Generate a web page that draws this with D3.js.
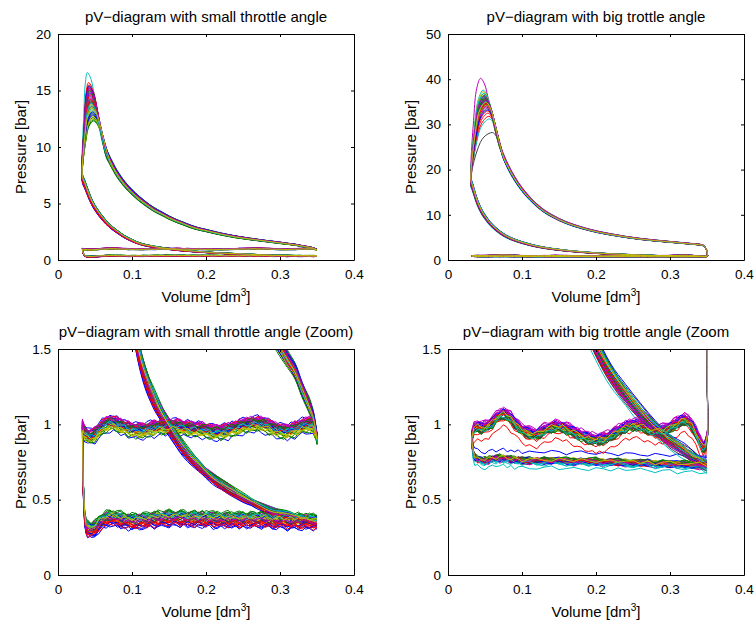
<!DOCTYPE html>
<html><head><meta charset="utf-8">
<script src="https://cdn.jsdelivr.net/npm/d3@7"></script>
<style>body{margin:0;background:#fff} svg text{font-family:"Liberation Sans",Arial,Helvetica,sans-serif;fill:#000}</style>
</head><body><svg id="c" width="755" height="626"></svg>
<script>
// ---------------- data ----------------
const lineColors = ["#0000ff","#008000","#ff0000","#00bfbf","#bf00bf","#bfbf00","#404040"];
const xTicks = [0, 0.1, 0.2, 0.3, 0.4];
const yTicksSmall = [0, 5, 10, 15, 20];
const yTicksBig = [0, 10, 20, 30, 40, 50];
const yTicksZoom = [0, 0.5, 1, 1.5];
const titles = ["pV\u2212diagram with small throttle angle", "pV\u2212diagram with big trottle angle",
                "pV\u2212diagram with small throttle angle (Zoom)", "pV\u2212diagram with big trottle angle (Zoom"];

// small throttle: shared strokes (volume dm3 -> pressure bar)
const compVolSmall = [0.033,0.036,0.04,0.045,0.05,0.06,0.07,0.08,0.09,0.10,0.11,0.12,0.13,0.14,0.15,0.17,0.19,0.21,0.23,0.25,0.27,0.29,0.31,0.33,0.35];
const compPSmall   = [7.2,6.7,6.0,5.2,4.6,3.7,3.0,2.5,2.05,1.72,1.45,1.28,1.16,1.06,0.98,0.83,0.72,0.635,0.57,0.51,0.46,0.42,0.395,0.37,0.35];
const expVolSmall  = [0.05,0.055,0.06,0.065,0.07,0.08,0.09,0.10,0.11,0.12,0.13,0.14,0.15,0.16,0.17,0.18,0.19,0.20,0.22,0.24,0.26,0.28,0.30,0.31,0.32,0.33,0.34,0.345,0.35];
const expPSmall    = [12.3,11.2,10.3,9.5,8.8,7.6,6.7,6.0,5.4,4.9,4.45,4.1,3.75,3.45,3.2,2.95,2.75,2.6,2.3,2.05,1.85,1.68,1.52,1.43,1.35,1.23,1.12,1.04,0.9];
const exhVolSmall  = [0.033,0.035,0.04,0.045,0.05,0.055,0.06,0.065,0.07,0.075,0.08,0.085,0.09,0.095,0.10,0.105,0.11,0.115,0.12,0.125,0.13,0.135,0.14,0.145,0.15,0.155,0.16,0.165,0.17,0.175,0.18,0.185,0.19,0.195,0.20,0.205,0.21,0.215,0.22,0.225,0.23,0.235,0.24,0.245,0.25,0.255,0.26,0.265,0.27,0.275,0.28,0.285,0.29,0.295,0.30,0.305,0.31,0.315,0.32,0.325,0.33,0.335,0.34,0.345,0.347];
const exhPSmall    = [0.98,0.95,0.925,0.92,0.935,0.96,0.985,1.0,1.01,1.01,1.0,0.99,0.98,0.97,0.965,0.96,0.96,0.96,0.965,0.97,0.975,0.98,0.985,0.985,0.99,0.99,0.99,0.985,0.98,0.975,0.97,0.97,0.965,0.965,0.96,0.955,0.95,0.95,0.95,0.955,0.96,0.97,0.975,0.985,0.99,0.995,1.0,1.005,1.005,1.0,0.995,0.985,0.975,0.965,0.96,0.955,0.955,0.96,0.97,0.98,0.99,0.995,1.0,0.99,0.96];
const intVolSmall  = [0.034,0.036,0.038,0.04,0.045,0.05,0.055,0.06,0.065,0.07,0.075,0.08,0.085,0.09,0.095,0.10,0.105,0.11,0.115,0.12,0.125,0.13,0.135,0.14,0.145,0.15,0.155,0.16,0.165,0.17,0.175,0.18,0.185,0.19,0.195,0.20,0.205,0.21,0.215,0.22,0.225,0.23,0.235,0.24,0.245,0.25,0.255,0.26,0.265,0.27,0.275,0.28,0.285,0.29,0.295,0.30,0.305,0.31,0.315,0.32,0.325,0.33,0.335,0.34,0.345,0.35];
const intPSmall    = [0.6,0.38,0.32,0.305,0.295,0.31,0.335,0.355,0.37,0.375,0.375,0.37,0.365,0.36,0.355,0.355,0.355,0.355,0.36,0.36,0.365,0.365,0.37,0.37,0.375,0.375,0.375,0.375,0.375,0.375,0.37,0.37,0.37,0.37,0.37,0.37,0.37,0.365,0.365,0.365,0.365,0.365,0.365,0.365,0.365,0.365,0.365,0.365,0.365,0.365,0.365,0.365,0.36,0.36,0.36,0.36,0.36,0.355,0.355,0.355,0.355,0.355,0.355,0.355,0.35,0.35];
// small throttle: per-cycle values
const smallPeakP = [15.2,12.3,15.7,16.6,14.7,13.5,12.8,15.0,12.6,15.5,13.2,14.2,12.5,13.9,14.8,13.0,15.3,13.7,14.5,13.3,14.1,12.9,14.0,15.1,14.4,14.9,13.8,13.6,15.4,12.4,14.6,13.4,14.3,12.7,14.0,13.1,15.0,14.2,13.9,15.2,13.5];
const smallPeakV = [0.0423,0.0478,0.0413,0.0396,0.0432,0.0455,0.0468,0.0426,0.0472,0.0417,0.0461,0.0442,0.0474,0.0447,0.0430,0.0464,0.0421,0.0451,0.0436,0.0459,0.0444,0.0466,0.0445,0.0425,0.0438,0.0428,0.0449,0.0453,0.0419,0.0476,0.0434,0.0457,0.0440,0.0470,0.0445,0.0463,0.0426,0.0442,0.0447,0.0423,0.0455];
const smallExhOff = [-0.055,0.01,0.02,-0.01,0.035,-0.03,0.0,0.045,-0.04,0.015,0.005,0.03,-0.02,-0.005,0.025,-0.045,0.01,0.0,0.04,-0.025,0.015,-0.01,0.02,0.005,-0.015,0.03,-0.035,0.01,0.0,-0.02,0.035,0.005,0.02,-0.03,0.015,-0.005,0.025,-0.01,0.0,0.04,-0.015];
const smallIntOff = [-0.045,0.05,-0.02,0.01,0.025,-0.01,0.0,-0.035,0.04,-0.03,0.02,0.015,0.005,-0.015,-0.05,0.03,-0.025,0.035,0.01,-0.005,0.02,0.0,0.045,-0.02,0.025,0.005,0.03,-0.01,-0.03,0.02,-0.04,0.015,0.035,0.01,-0.005,0.025,0.04,-0.015,0.03,0.0,0.02];
const smallCompScale = [0.95,1.05,0.98,1.01,1.03,0.99,1.0,0.97,1.05,0.97,1.03,1.02,1.01,0.98,0.95,1.04,0.97,1.05,1.01,0.99,1.03,1.0,1.06,0.98,1.03,1.01,1.04,0.99,0.97,1.03,0.96,1.02,1.05,1.01,0.99,1.03,1.05,0.98,1.04,1.0,1.02];
const smallExpScale = [0.99,1.03,0.98,1.01,1.02,0.97,1.0,1.04,0.99,0.98,1.01,1.03,0.97,1.0,1.02,0.98,1.01,0.99,1.03,1.0,0.97,1.02,1.04,0.99,1.01,0.98,1.02,1.0,0.97,1.03,0.99,1.01,1.02,0.98,1.0,1.03,0.96,1.01,0.99,1.02,1.0];

// big throttle: shared strokes
const compVolBig = [0.031,0.033,0.035,0.037,0.04,0.045,0.05,0.055,0.06,0.07,0.08,0.09,0.10,0.12,0.14,0.16,0.18,0.20,0.22,0.24,0.26,0.28,0.30,0.32,0.33,0.34,0.35];
const compPBig   = [17.2,16.2,15.1,14.0,12.6,10.8,9.5,8.4,7.5,6.1,5.1,4.4,3.85,3.0,2.45,2.05,1.75,1.51,1.33,1.19,1.07,0.97,0.885,0.815,0.78,0.75,0.725];
const expVolBig  = [0.06,0.065,0.07,0.075,0.08,0.09,0.10,0.11,0.12,0.13,0.14,0.15,0.16,0.17,0.18,0.19,0.20,0.22,0.24,0.26,0.28,0.30,0.32,0.33,0.34,0.345,0.348,0.35,0.3505,0.351];
const expPBig    = [29.5,27.0,24.8,22.8,21.0,18.0,15.6,13.7,12.1,10.8,9.8,8.95,8.25,7.65,7.15,6.7,6.3,5.65,5.1,4.65,4.3,4.0,3.7,3.55,3.4,3.2,2.7,2.0,1.3,0.95];
const exhVolBig  = [0.032,0.035,0.04,0.045,0.05,0.055,0.06,0.065,0.07,0.075,0.08,0.085,0.09,0.095,0.10,0.105,0.11,0.115,0.12,0.125,0.13,0.135,0.14,0.145,0.15,0.155,0.16,0.165,0.17,0.175,0.18,0.185,0.19,0.195,0.20,0.205,0.21,0.215,0.22,0.225,0.23,0.235,0.24,0.245,0.25,0.255,0.26,0.265,0.27,0.275,0.28,0.285,0.29,0.295,0.30,0.305,0.31,0.315,0.32,0.325,0.33,0.335,0.34,0.345,0.348];
const exhPBig    = [0.90,0.96,0.975,0.965,0.97,0.985,1.005,1.03,1.05,1.06,1.05,1.03,1.0,0.975,0.955,0.94,0.93,0.925,0.925,0.935,0.95,0.96,0.97,0.975,0.975,0.97,0.96,0.95,0.94,0.925,0.915,0.905,0.895,0.89,0.89,0.89,0.895,0.905,0.915,0.93,0.945,0.96,0.97,0.98,0.985,0.985,0.98,0.97,0.96,0.95,0.945,0.945,0.95,0.96,0.97,0.985,1.0,1.015,1.02,1.01,0.98,0.93,0.88,0.835,0.85];
const intVolBig  = [0.033,0.034,0.036,0.04,0.045,0.05,0.055,0.06,0.065,0.07,0.075,0.08,0.085,0.09,0.095,0.10,0.11,0.12,0.13,0.14,0.15,0.16,0.17,0.18,0.19,0.20,0.21,0.22,0.23,0.24,0.25,0.26,0.27,0.28,0.29,0.30,0.31,0.32,0.33,0.34,0.35];
const intPBig    = [0.85,0.81,0.78,0.765,0.755,0.755,0.76,0.765,0.77,0.77,0.77,0.765,0.765,0.76,0.76,0.755,0.755,0.755,0.755,0.755,0.755,0.75,0.75,0.75,0.75,0.75,0.745,0.745,0.745,0.745,0.74,0.74,0.74,0.735,0.735,0.735,0.73,0.73,0.725,0.725,0.72];
// big throttle: per-cycle values
const bigPeakP = [36.2,36.8,32.5,37.6,40.2,37.3,28.2,35.4,35.0,31.8,31.2,34.0,36.5,33.5,36.0,35.6,33.0,35.8,34.6,35.2,34.2,34.8,36.4,35.3,36.9,33.8,35.9,34.9,35.1,34.4,34.7,36.1,35.5,34.3,35.7,33.2,35.9,34.5,35.0,36.3,34.9];
const bigPeakV = [0.0493,0.0485,0.0542,0.0475,0.0440,0.0479,0.0600,0.0504,0.0509,0.0552,0.0560,0.0522,0.0489,0.0529,0.0496,0.0501,0.0536,0.0499,0.0514,0.0507,0.0520,0.0512,0.0491,0.0505,0.0484,0.0525,0.0497,0.0510,0.0508,0.0517,0.0513,0.0495,0.0502,0.0518,0.0500,0.0533,0.0497,0.0516,0.0509,0.0492,0.0510];
const bigExhOff = [0.015,-0.015,-0.075,0.03,0.045,0.0,-0.02,0.02,0.01,-0.03,-0.01,0.035,0.015,-0.015,0.03,0.0,0.01,0.02,0.05,-0.01,0.015,0.0,-0.015,0.03,0.01,0.02,0.015,-0.01,0.035,-0.02,0.01,0.015,0.03,0.0,-0.015,0.02,0.01,0.015,-0.01,0.03,0.015];
const bigIntOff = [0.06,0.0,-0.01,-0.045,0.015,0.005,0.01,-0.01,0.02,0.0,0.005,-0.015,0.01,0.015,-0.005,0.02,-0.01,0.0,0.005,0.01,-0.005,0.015,0.0,0.01,-0.02,0.005,0.015,0.0,-0.01,0.01,0.005,-0.015,0.0,0.01,0.015,-0.005,0.01,0.0,-0.01,0.005,0.01];
const bigCompScale = [1.01,0.99,0.97,0.94,1.03,1.0,1.05,0.98,1.02,0.96,1.0,1.04,0.99,1.01,0.97,1.03,1.0,0.98,1.02,1.0,0.99,1.06,1.01,0.98,1.03,0.97,1.02,1.0,0.99,1.04,0.98,1.01,1.0,1.03,0.96,1.02,0.99,1.01,1.04,0.98,1.02];
const bigExpScale = [1.0,1.01,0.99,1.02,1.03,1.0,0.98,1.01,0.99,0.98,0.97,1.0,1.02,0.99,1.01,1.0,0.98,1.02,1.01,1.0,0.99,1.01,1.02,1.0,1.01,0.99,1.0,0.99,1.01,1.0,0.98,1.02,1.0,0.99,1.01,0.98,1.0,1.01,0.99,1.02,1.0];

// combustion peak shape (fractions) and measurement ripple trace
const riseT = [0.3, 0.6], riseS = [0.62, 0.9];
const fallT = [0.25, 0.5, 0.75], fallS = [0.1, 0.38, 0.72];
const noiseTrace = [0.3,-0.8,0.5,0.9,-0.2,-0.6,0.7,0.1,-0.9,0.4,0.6,-0.3,-0.7,0.8,0.2,-0.5,0.9,-0.1,-0.8,0.3,0.6,-0.4,0.0,0.7,-0.6,0.5,-0.9,0.2,0.8,-0.3,-0.5,0.4,0.9,-0.7,0.1,0.6,-0.2,-0.8,0.5,0.3,-0.6,0.7,-0.4,0.2,0.9,-0.1,-0.7,0.4,0.6,-0.9,0.1,0.8,-0.5,0.3,-0.2,0.7,-0.6,0.5,0.0,-0.3,0.8];

// ---------------- build ----------------
const small = {compV:compVolSmall, compP:compPSmall, expV:expVolSmall, expP:expPSmall, exhV:exhVolSmall, exhP:exhPSmall,
  intV:intVolSmall, intP:intPSmall, peakP:smallPeakP, peakV:smallPeakV, exhOff:smallExhOff, intOff:smallIntOff,
  compScale:smallCompScale, expScale:smallExpScale, jit:0.016};
const big = {compV:compVolBig, compP:compPBig, expV:expVolBig, expP:expPBig, exhV:exhVolBig, exhP:exhPBig,
  intV:intVolBig, intP:intPBig, peakP:bigPeakP, peakV:bigPeakV, exhOff:bigExhOff, intOff:bigIntOff,
  compScale:bigCompScale, expScale:bigExpScale, jit:0.015};

function buildCycle(c, i) {
  const hot = [], gas = [];
  const nz = k => noiseTrace[(k + i * 11) % noiseTrace.length];
  const cs = c.compScale[i], g = c.expScale[i];
  for (let k = c.compV.length - 1; k >= 0; k--) hot.push([c.compV[k], c.compP[k] * cs + c.jit * 0.7 * nz(k + 3)]);
  const V0 = c.compV[0], P0 = c.compP[0] * cs, Vp = c.peakV[i], Pp = c.peakP[i];
  riseT.forEach((t, j) => hot.push([V0 + t * (Vp - V0), P0 + riseS[j] * (Pp - P0)]));
  hot.push([Vp, Pp]);
  const m = c.expV.findIndex(v => v >= Vp + 0.02);
  const Vm = c.expV[m], Pm = c.expP[m] * g;
  fallT.forEach((t, j) => hot.push([Vp + t * (Vm - Vp), Pp + fallS[j] * (Pm - Pp)]));
  for (let k = m; k < c.expV.length; k++) hot.push([c.expV[k], c.expP[k] * g + c.jit * 0.7 * nz(k + 17)]);
  gas.push(hot[hot.length - 1]);
  for (let k = c.exhV.length - 1; k >= 0; k--) gas.push([c.exhV[k], c.exhP[k] + c.exhOff[i] + c.jit * nz(k + 29)]);
  for (let k = 0; k < c.intV.length; k++) gas.push([c.intV[k], c.intP[k] + c.intOff[i] + c.jit * nz(k + 41)]);
  return {hot, gas};
}

const panels = [
  {x:58,  y:34,  ymax:20,  yticks:yTicksSmall, cfg:small, title:titles[0]},
  {x:448, y:34,  ymax:50,  yticks:yTicksBig,   cfg:big,   title:titles[1]},
  {x:58,  y:349, ymax:1.5, yticks:yTicksZoom,  cfg:small, title:titles[2]},
  {x:448, y:349, ymax:1.5, yticks:yTicksZoom,  cfg:big,   title:titles[3]}
];
const W = 296, H = 226;
const svg = d3.select("#c");
const fmt = d3.format("~g");

panels.forEach((p, pi) => {
  const xs = d3.scaleLinear([0, 0.4], [p.x, p.x + W]);
  const ys = d3.scaleLinear([0, p.ymax], [p.y + H, p.y]);
  const clipId = "clip" + pi;
  svg.append("clipPath").attr("id", clipId).append("rect")
    .attr("x", p.x).attr("y", p.y).attr("width", W).attr("height", H);
  const smooth = d3.line().x(d => xs(d[0])).y(d => ys(d[1])).curve(d3.curveCatmullRom.alpha(0.5));
  const plain = d3.line().x(d => xs(d[0])).y(d => ys(d[1]));
  const n = p.cfg.peakP.length;
  const gl = svg.append("g").attr("clip-path", `url(#${clipId})`)
    .attr("fill", "none").attr("stroke-width", 1).attr("stroke-linejoin", "round");
  for (let i = 0; i < n; i++) {
    const cyc = buildCycle(p.cfg, i), col = lineColors[i % lineColors.length];
    gl.append("path").attr("d", smooth(cyc.hot)).attr("stroke", col);
    gl.append("path").attr("d", plain(cyc.gas)).attr("stroke", col);
  }
  // axes
  const styleAxis = g => { g.attr("font-size", null).attr("font-family", null);
    g.selectAll("path,line").attr("stroke", "#000"); g.selectAll("text").attr("font-size", "13.5px"); };
  svg.append("g").attr("transform", `translate(0,${p.y + H})`)
    .call(d3.axisBottom(xs).tickValues(xTicks).tickFormat(fmt).tickSizeInner(-3).tickSizeOuter(0).tickPadding(9.5)).call(styleAxis);
  svg.append("g").attr("transform", `translate(0,${p.y})`)
    .call(d3.axisTop(xs).tickValues(xTicks).tickFormat("").tickSizeInner(-3).tickSizeOuter(0)).call(styleAxis);
  svg.append("g").attr("transform", `translate(${p.x},0)`)
    .call(d3.axisLeft(ys).tickValues(p.yticks).tickFormat(fmt).tickSizeInner(-3).tickSizeOuter(0).tickPadding(7)).call(styleAxis);
  svg.append("g").attr("transform", `translate(${p.x + W},0)`)
    .call(d3.axisRight(ys).tickValues(p.yticks).tickFormat("").tickSizeInner(-3).tickSizeOuter(0)).call(styleAxis);
  // title and labels
  svg.append("text").attr("x", p.x + W / 2).attr("y", p.y - 12).attr("text-anchor", "middle")
    .attr("font-size", "15px").text(p.title);
  const xl = svg.append("text").attr("x", p.x + W / 2).attr("y", p.y + H + 41.5).attr("text-anchor", "middle").attr("font-size", "15px");
  xl.append("tspan").text("Volume [dm");
  xl.append("tspan").attr("font-size", "10px").attr("dy", -6).text("3");
  xl.append("tspan").attr("dy", 6).text("]");
  svg.append("text").attr("transform", `translate(${p.x - 32},${p.y + H / 2}) rotate(-90)`)
    .attr("text-anchor", "middle").attr("font-size", "15px").text("Pressure [bar]");
});
</script></body></html>
